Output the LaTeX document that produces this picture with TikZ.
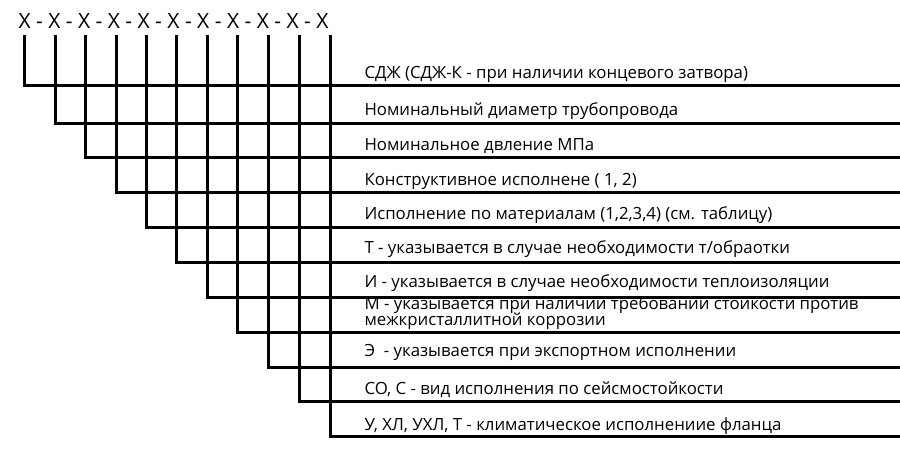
\documentclass[tikz,border=0pt]{standalone}
\usepackage{fontspec}
\setmainfont{Open Sans}
\begin{document}
\begin{tikzpicture}[x=1pt,y=-1pt,line width=3pt,
  lbl/.style={anchor=base west,inner sep=0pt,font=\fontsize{16.8}{16.8}\selectfont}]
\useasboundingbox (0,0) rectangle (900,451);
\node[anchor=base west,inner sep=0pt,font=\fontsize{21}{21}\selectfont] (hdr) at (17,28) {X - X - X - X - X - X - X - X - X - X - X};
\foreach \i/\xx/\yy in {0/24/85,1/55/123,2/85/157,3/116/192,4/146/227,5/176/262,6/207/297,7/237/332,8/268/367,9/299/401,10/330/436}{
  \coordinate (t\i) at (\xx,35);
  \coordinate (c\i) at (\xx,\yy);
  \coordinate (e\i) at (900,\yy);
  \draw (t\i) |- (e\i);
}
\node[lbl] (l0) at (363,78) {СДЖ (СДЖ-К - при наличии концевого затвора)};
\node[lbl] (l1) at (363,115) {Номинальный диаметр трубопровода};
\node[lbl] (l2) at (363,150) {Номинальное двление МПа};
\node[lbl] (l3) at (363,185) {Конструктивное исполнене ( 1, 2)};
\node[lbl] (l4) at (363,219) {Исполнение по материалам (1,2,3,4) (см. таблицу)};
\node[lbl] (l5) at (363,253) {Т - указывается в случае необходимости т/обраотки};
\node[lbl] (l6) at (363,287) {И - указывается в случае необходимости теплоизоляции};
\node[lbl] (l7a) at (363,309) {М - указывается при наличии требований стойкости против};
\node[lbl] (l7b) at (363,325) {межкристаллитной коррозии};
\node[lbl] (l8) at (363,356) {Э \ - указывается при экспортном исполнении};
\node[lbl] (l9) at (363,394) {СО, С - вид исполнения по сейсмостойкости};
\node[lbl] (l10) at (363,430) {У, ХЛ, УХЛ, Т - климатическое исполнениие фланца};
\end{tikzpicture}
\end{document}
